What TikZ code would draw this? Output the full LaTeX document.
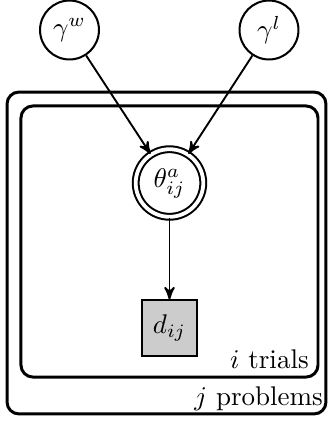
\documentclass[tikz,border=0pt]{standalone}
\usepackage{amsmath,amssymb}
\usepackage{tikz}
\usetikzlibrary{arrows,positioning,shapes}
\tikzset{
  latent/.style={circle, draw, line width=0.75pt, minimum size=21.8pt, inner sep=0pt},
  derived/.style={latent, double, double distance=1.4pt, minimum size=25pt},
  observed/.style={rectangle, draw, line width=0.75pt, fill=gray!40, minimum size=20.4pt, inner sep=0pt},
  plate/.style={rectangle, draw, line width=1.1pt, rounded corners=4.4pt},
  edge/.style={->, line width=0.7pt},
}
\begin{document}
\begin{tikzpicture}[x = 0.37pt, y = -0.37pt, >=stealth']
\useasboundingbox (0, 0) rectangle (328, 421);

% plates
\node[plate, minimum width=118pt, minimum height=119.1pt] (problems) at (166.5, 253) {};
\node[plate, minimum width=109.9pt, minimum height=100.3pt] (trials) at (169.5, 241.5) {};
\node[anchor=south east, inner sep=1.5pt] (problemslabel) at (problems.south east) {$j$ problems};
\node[anchor=south east, inner xsep=3.8pt, inner ysep=3.4pt] (trialslabel) at (trials.south east) {$i$ trials};

% nodes
\node[latent] (gw) at (69.5, 30) {$\gamma^w$};
\node[latent] (gl) at (269, 30) {$\gamma^l$};
\node[derived] (theta) at (169.5, 183) {$\theta^a_{ij}$};
\node[observed] (d) at (169.5, 328) {$d_{ij}$};

\draw[edge] (gw) -- (theta);
\draw[edge] (gl) -- (theta);
\draw[edge] (theta) -- (d);

\end{tikzpicture}
\end{document}
